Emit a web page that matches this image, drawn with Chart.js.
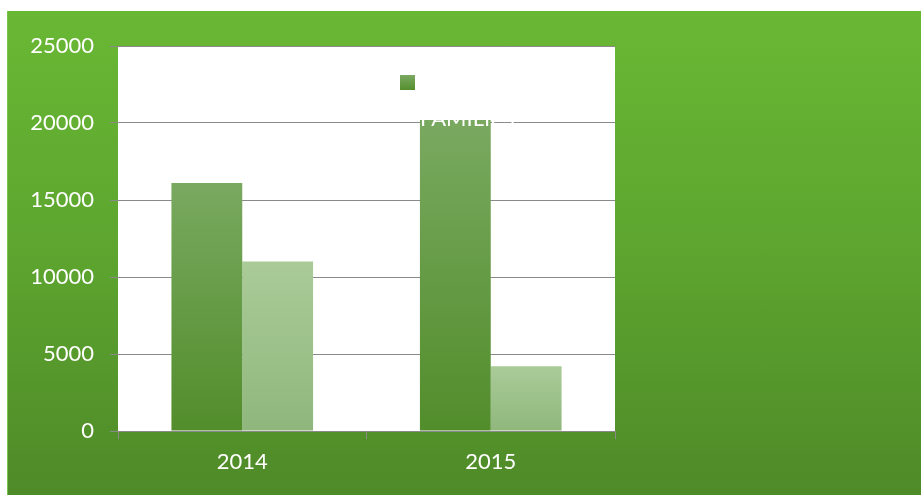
<!DOCTYPE html>
<html>
<head>
<meta charset="utf-8">
<script src="https://cdn.jsdelivr.net/npm/chart.js@4/dist/chart.umd.min.js"></script>
<style>
    body { margin: 0; background: #ffffff; }
    #frame {
        position: absolute;
        left: 7px;
        top: 11px;
        width: 914px;
        height: 484px;
        background: linear-gradient(to bottom, #69b834 0%, #5da52f 50%, #4f8a28 100%);
        border-left: 1px solid #77c447;
        box-sizing: border-box;
    }
    #chart { display: block; }
</style>
</head>
<body>
<div id="frame"><canvas id="chart" width="913" height="484"></canvas></div>
<script>
// Chart data
const categories = ['2014', '2015'];
const familiesValues = [16100, 20200];
const secondValues = [11000, 4200];
const yTicks = [0, 5000, 10000, 15000, 20000, 25000];

// Gradient for a single bar, top light -> bottom dark
function barGradient(context, topColor, bottomColor) {
    const chart = context.chart;
    const yScale = chart.scales.y;
    if (!chart.chartArea || !yScale || context.raw === undefined) return bottomColor;
    const top = yScale.getPixelForValue(context.raw);
    const bottom = yScale.getPixelForValue(0);
    const g = chart.ctx.createLinearGradient(0, top, 0, bottom);
    g.addColorStop(0, topColor);
    g.addColorStop(1, bottomColor);
    return g;
}

// White plot area
const plotBackground = {
    id: 'plotBackground',
    beforeDraw(chart) {
        const a = chart.chartArea;
        const ctx = chart.ctx;
        ctx.save();
        ctx.fillStyle = '#ffffff';
        ctx.fillRect(a.left, a.top, a.right - a.left, a.bottom - a.top);
        ctx.restore();
    }
};

// Legend drawn inside the plot like the original
const innerLegend = {
    id: 'innerLegend',
    afterDatasetsDraw(chart) {
        const ctx = chart.ctx;
        const a = chart.chartArea;
        const x = a.left + 282;
        const y = a.top + 29;
        ctx.save();
        const g = ctx.createLinearGradient(0, y, 0, y + 15);
        g.addColorStop(0, '#7aa962');
        g.addColorStop(1, '#558f2e');
        ctx.fillStyle = g;
        ctx.fillRect(x, y, 15, 15);
        ctx.fillStyle = '#ffffff';
        ctx.font = '22px Lato';
        ctx.textBaseline = 'alphabetic';
        ctx.fillText(chart.data.datasets[0].label, x + 20, a.top + 80);
        ctx.restore();
    }
};

new Chart(document.getElementById('chart'), {
    type: 'bar',
    data: {
        labels: categories,
        datasets: [{
            label: 'FAMILIES',
            data: familiesValues,
            backgroundColor: ctx => barGradient(ctx, '#79a960', '#528d2b'),
            borderWidth: 0
        }, {
            label: 'INDIVIDUALS',
            data: secondValues,
            backgroundColor: ctx => barGradient(ctx, '#aacb98', '#8fb77c'),
            borderWidth: 0
        }]
    },
    options: {
        responsive: false,
        animation: false,
        datasets: {
            bar: {
                categoryPercentage: 0.57,
                barPercentage: 1.0
            }
        },
        layout: {
            padding: { top: 35, right: 306, bottom: 0, left: 0 }
        },
        plugins: {
            legend: { display: false },
            tooltip: { enabled: false }
        },
        scales: {
            x: {
                grid: {
                    drawOnChartArea: false,
                    color: '#8a8a8a',
                    tickLength: 8
                },
                border: { color: '#8a8a8a' },
                ticks: {
                    color: '#ffffff',
                    font: { family: 'Lato', size: 22 },
                    padding: 10
                },
                afterFit(scale) { scale.height = 64; }
            },
            y: {
                min: 0,
                max: 25000,
                afterBuildTicks(scale) {
                    scale.ticks = yTicks.map(v => ({ value: v }));
                },
                grid: {
                    color: '#8a8a8a',
                    tickLength: 8
                },
                border: { display: false },
                ticks: {
                    color: '#ffffff',
                    font: { family: 'Lato', size: 22 },
                    padding: 16,
                    callback: value => String(value)
                },
                afterFit(scale) { scale.width = 110; }
            }
        }
    },
    plugins: [plotBackground, innerLegend]
});
</script>
</body>
</html>
